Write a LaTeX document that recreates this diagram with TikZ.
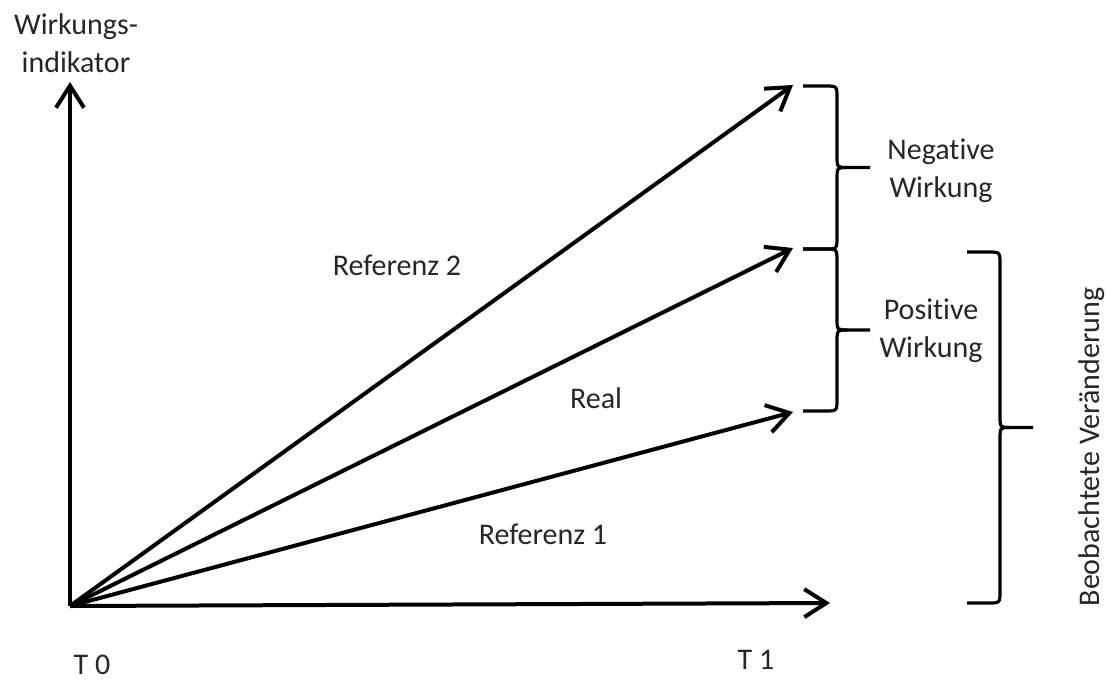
\documentclass[tikz,border=0pt]{standalone}
\usepackage{fontspec}
\setmainfont{Carlito}[Ligatures=NoCommon]
\usetikzlibrary{arrows.meta}
\definecolor{txt}{RGB}{38,38,38}
\tikzset{
  arr/.style={line width=2pt, -{Straight Barb[length=11pt,width=14pt,line width=2pt]}},
  lbl/.style={font=\fontsize{15}{19}\selectfont, text=txt, align=center, inner sep=0pt},
  brc/.style={line width=1.6pt, line join=round}
}
\newcommand{\wordbrace}[5]{% x0, y1, y2, xv, xt
  \pgfmathsetmacro{\ym}{(#2+#3)/2}
  \draw[brc] (#1,#2) -- ({#4-12},#2) .. controls (#4,#2) .. (#4,{#2+12})
    -- (#4,{\ym-12}) .. controls (#4,\ym) .. ({#4+10},\ym) -- (#5,\ym);
  \draw[brc] ({#4+10},\ym) .. controls (#4,\ym) .. (#4,{\ym+12})
    -- (#4,{#3-12}) .. controls (#4,#3) .. ({#4-12},#3) -- (#1,#3);
}
\begin{document}
\begin{tikzpicture}[x=0.5pt,y=-0.5pt]
\useasboundingbox (0,0) rectangle (1107,680);
\coordinate (O) at (70,606);
\coordinate (ytop) at (70,82);
\coordinate (xend) at (830,603);
\coordinate (r2) at (793,85);
\coordinate (re) at (793,248);
\coordinate (r1) at (793,412);

\draw[arr] (O) -- (ytop);
\draw[arr] (O) -- (xend);
\draw[arr] (O) -- (r2);
\draw[arr] (O) -- (re);
\draw[arr] (O) -- (r1);

\wordbrace{803}{86}{249}{837}{870}
\wordbrace{803}{249}{411}{837}{870}
\wordbrace{967}{252}{603}{1000}{1033}

\node[lbl] (ylab) at (76,43) {Wirkungs-\\indikator};
\node[lbl] (t0) at (92,665) {T 0};
\node[lbl] (t1) at (756,660) {T 1};
\node[lbl] (lr2) at (397,265) {Referenz 2};
\node[lbl] (lre) at (596,398) {Real};
\node[lbl] (lr1) at (543,534) {Referenz 1};
\node[lbl] (neg) at (941,171) {Negative\\Wirkung};
\node[lbl] (pos) at (931,331) {Positive\\Wirkung};
\node[lbl, rotate=90] (beo) at (1092,447) {Beobachtete Veränderung};
\end{tikzpicture}
\end{document}
